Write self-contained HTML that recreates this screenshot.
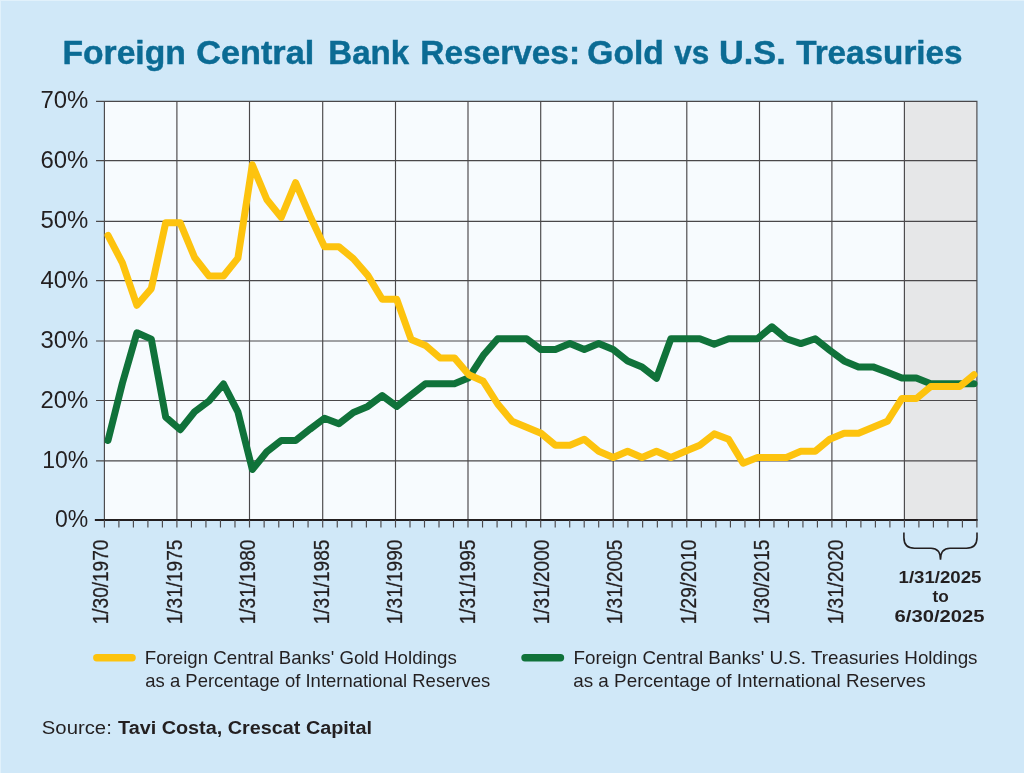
<!DOCTYPE html>
<html><head><meta charset="utf-8"><title>Foreign Central Bank Reserves: Gold vs U.S. Treasuries</title>
<style>
html,body{margin:0;padding:0;background:#d0e8f8}
body{width:1024px;height:773px;overflow:hidden;font-family:"Liberation Sans",sans-serif}
svg{display:block;will-change:transform}
</style></head><body>
<svg width="1024" height="773" viewBox="0 0 1024 773">
<rect x="0" y="0" width="1024" height="773" fill="#d0e8f8"/>
<path d="M0,0.5H1024M0.5,0V773" stroke="#e1f1fb" stroke-width="1" fill="none"/>
<rect x="104.4" y="101.4" width="872.50" height="418.60" fill="#f7fbfe"/>
<rect x="904.4" y="101.4" width="72.50" height="418.60" fill="#e6e7e8"/>
<path d="M104.40,100.9V520.0M176.90,100.9V520.0M249.50,100.9V520.0M322.70,100.9V520.0M395.50,100.9V520.0M468.00,100.9V520.0M540.70,100.9V520.0M613.20,100.9V520.0M686.80,100.9V520.0M759.50,100.9V520.0M831.90,100.9V520.0M904.40,100.9V520.0M976.90,100.9V520.0M96.05,460.90H977.50M96.05,400.50H977.50M96.05,341.00H977.50M96.05,280.55H977.50M96.05,221.40H977.50M96.05,160.60H977.50M96.05,101.40H977.50" stroke="#4a484a" stroke-width="1.15" fill="none"/>
<path d="M94.85,520.0H977.60" stroke="#231f20" stroke-width="2" fill="none"/>
<path d="M104.40,520.0V527.6M118.90,520.0V527.6M133.40,520.0V527.6M147.90,520.0V527.6M162.40,520.0V527.6M176.90,520.0V527.6M191.42,520.0V527.6M205.94,520.0V527.6M220.46,520.0V527.6M234.98,520.0V527.6M249.50,520.0V527.6M264.14,520.0V527.6M278.78,520.0V527.6M293.42,520.0V527.6M308.06,520.0V527.6M322.70,520.0V527.6M337.26,520.0V527.6M351.82,520.0V527.6M366.38,520.0V527.6M380.94,520.0V527.6M395.50,520.0V527.6M410.00,520.0V527.6M424.50,520.0V527.6M439.00,520.0V527.6M453.50,520.0V527.6M468.00,520.0V527.6M482.54,520.0V527.6M497.08,520.0V527.6M511.62,520.0V527.6M526.16,520.0V527.6M540.70,520.0V527.6M555.20,520.0V527.6M569.70,520.0V527.6M584.20,520.0V527.6M598.70,520.0V527.6M613.20,520.0V527.6M627.92,520.0V527.6M642.64,520.0V527.6M657.36,520.0V527.6M672.08,520.0V527.6M686.80,520.0V527.6M701.34,520.0V527.6M715.88,520.0V527.6M730.42,520.0V527.6M744.96,520.0V527.6M759.50,520.0V527.6M773.98,520.0V527.6M788.46,520.0V527.6M802.94,520.0V527.6M817.42,520.0V527.6M831.90,520.0V527.6M846.40,520.0V527.6M860.90,520.0V527.6M875.40,520.0V527.6M889.90,520.0V527.6M904.40,520.0V527.6M918.90,520.0V527.6M933.40,520.0V527.6M947.90,520.0V527.6M962.40,520.0V527.6M976.90,520.0V527.6" stroke="#4a484a" stroke-width="1.15" fill="none"/>
<polyline points="108.0,440.5 122.4,383.1 136.9,332.8 151.3,339.1 165.7,417.1 180.2,429.7 194.6,411.8 209.0,401.0 223.5,384.0 237.9,411.8 252.3,469.5 266.8,451.8 281.2,440.5 295.6,440.5 310.1,429.1 324.5,418.3 338.9,423.7 353.4,412.4 367.8,406.4 382.2,395.6 396.7,406.4 411.1,395.0 425.5,383.7 440.0,383.7 454.4,383.7 468.8,377.7 483.3,355.3 497.7,338.8 512.1,338.8 526.6,338.8 541.0,349.6 555.4,349.6 569.9,343.6 584.3,349.6 598.7,343.6 613.2,349.6 627.6,360.9 642.0,366.9 656.5,378.3 670.9,338.8 685.3,338.8 699.8,338.8 714.2,344.2 728.6,338.8 743.1,338.8 757.5,338.8 771.9,326.8 786.4,338.8 800.8,343.6 815.2,338.8 829.7,350.2 844.1,360.9 858.5,366.9 873.0,366.9 887.4,372.3 901.8,378.0 916.3,378.0 930.7,383.7 945.1,383.7 959.6,383.7 974.0,383.7" fill="none" stroke="#10723a" stroke-width="7" stroke-linejoin="round" stroke-linecap="round"/>
<polyline points="108.0,235.4 122.4,262.9 136.9,305.3 151.3,288.6 165.7,222.8 180.2,222.8 194.6,257.5 209.0,276.0 223.5,276.0 237.9,258.1 252.3,164.8 266.8,199.5 281.2,217.4 295.6,182.7 310.1,216.2 324.5,246.7 338.9,246.7 353.4,258.7 367.8,275.4 382.2,299.3 396.7,299.3 411.1,339.4 425.5,345.4 440.0,357.9 454.4,357.9 468.8,374.7 483.3,381.3 497.7,404.0 512.1,421.3 526.6,427.3 541.0,433.3 555.4,445.2 569.9,445.2 584.3,439.3 598.7,451.2 613.2,457.5 627.6,451.2 642.0,457.5 656.5,451.2 670.9,457.5 685.3,451.2 699.8,445.2 714.2,433.9 728.6,439.3 743.1,463.2 757.5,457.5 771.9,457.5 786.4,457.5 800.8,451.2 815.2,451.2 829.7,439.3 844.1,433.3 858.5,433.3 873.0,427.3 887.4,421.3 901.8,398.6 916.3,398.6 930.7,386.6 945.1,386.6 959.6,386.6 974.0,374.7" fill="none" stroke="#fdc30e" stroke-width="7" stroke-linejoin="round" stroke-linecap="round"/>
<path d="M903.9,532.5V537.5C903.9,544.8 907.3,548.2 914.5,548.2H931C936.6,548.2 940.5,551.2 940.5,559.7C940.5,551.2 944.4,548.2 950,548.2H966.4C973.6,548.2 977,544.8 977,537.5V532.5" fill="none" stroke="#231f20" stroke-width="1.6"/>
<path d="M96.8,657.8H132.1" stroke="#fdc30e" stroke-width="7.4" stroke-linecap="round"/>
<path d="M525,657.8H560.5" stroke="#10723a" stroke-width="7.4" stroke-linecap="round"/>
<g font-family="'Liberation Sans', sans-serif" fill="#231f20" opacity="0.999">
<text id="title" y="64.4" font-size="33" font-weight="bold" fill="#0b6b94" stroke="#0b6b94" stroke-width="0.45"><tspan x="62.46" textLength="123.32" lengthAdjust="spacingAndGlyphs">Foreign</tspan> <tspan x="196.26" textLength="117.99" lengthAdjust="spacingAndGlyphs">Central</tspan> <tspan x="328.3" textLength="80.75" lengthAdjust="spacingAndGlyphs">Bank</tspan> <tspan x="420.38" textLength="159.65" lengthAdjust="spacingAndGlyphs">Reserves:</tspan> <tspan x="587.38" textLength="76.41" lengthAdjust="spacingAndGlyphs">Gold</tspan> <tspan x="674.3" textLength="34.99" lengthAdjust="spacingAndGlyphs">vs</tspan> <tspan x="718.96" textLength="66.8" lengthAdjust="spacingAndGlyphs">U.S.</tspan> <tspan x="796.2" textLength="166.36" lengthAdjust="spacingAndGlyphs">Treasuries</tspan></text>
<text id="y0" x="88.3" y="527.0" font-size="23" text-anchor="end">0%</text>
<text id="y1" x="88.3" y="467.9" font-size="23" text-anchor="end">10%</text>
<text id="y2" x="88.3" y="407.5" font-size="23" textLength="47.9" lengthAdjust="spacingAndGlyphs" text-anchor="end">20%</text>
<text id="y3" x="88.3" y="348.0" font-size="23" textLength="47.9" lengthAdjust="spacingAndGlyphs" text-anchor="end">30%</text>
<text id="y4" x="88.3" y="287.6" font-size="23" textLength="47.9" lengthAdjust="spacingAndGlyphs" text-anchor="end">40%</text>
<text id="y5" x="88.3" y="228.4" font-size="23" textLength="47.9" lengthAdjust="spacingAndGlyphs" text-anchor="end">50%</text>
<text id="y6" x="88.3" y="167.6" font-size="23" textLength="47.9" lengthAdjust="spacingAndGlyphs" text-anchor="end">60%</text>
<text id="y7" x="88.3" y="108.4" font-size="23" textLength="47.9" lengthAdjust="spacingAndGlyphs" text-anchor="end">70%</text>
<text id="x0" font-size="21.5" stroke="#231f20" stroke-width="0.3" transform="translate(108.0,624.3) rotate(-90) scale(0.885,1)">1/30/1970</text>
<text id="x1" font-size="21.5" stroke="#231f20" stroke-width="0.3" transform="translate(181.5,624.3) rotate(-90) scale(0.885,1)">1/31/1975</text>
<text id="x2" font-size="21.5" stroke="#231f20" stroke-width="0.3" transform="translate(255.0,624.3) rotate(-90) scale(0.885,1)">1/31/1980</text>
<text id="x3" font-size="21.5" stroke="#231f20" stroke-width="0.3" transform="translate(328.5,624.3) rotate(-90) scale(0.885,1)">1/31/1985</text>
<text id="x4" font-size="21.5" stroke="#231f20" stroke-width="0.3" transform="translate(402.0,624.3) rotate(-90) scale(0.885,1)">1/31/1990</text>
<text id="x5" font-size="21.5" stroke="#231f20" stroke-width="0.3" transform="translate(475.4,624.3) rotate(-90) scale(0.885,1)">1/31/1995</text>
<text id="x6" font-size="21.5" stroke="#231f20" stroke-width="0.3" transform="translate(548.9,624.3) rotate(-90) scale(0.885,1)">1/31/2000</text>
<text id="x7" font-size="21.5" stroke="#231f20" stroke-width="0.3" transform="translate(622.4,624.3) rotate(-90) scale(0.885,1)">1/31/2005</text>
<text id="x8" font-size="21.5" stroke="#231f20" stroke-width="0.3" transform="translate(695.9,624.3) rotate(-90) scale(0.885,1)">1/29/2010</text>
<text id="x9" font-size="21.5" stroke="#231f20" stroke-width="0.3" transform="translate(769.4,624.3) rotate(-90) scale(0.885,1)">1/30/2015</text>
<text id="x10" font-size="21.5" stroke="#231f20" stroke-width="0.3" transform="translate(842.9,624.3) rotate(-90) scale(0.885,1)">1/31/2020</text>
<text id="b1" x="940.0" y="582.9" font-size="17.2" textLength="83" lengthAdjust="spacingAndGlyphs" text-anchor="middle" font-weight="bold">1/31/2025</text>
<text id="b2" x="940.6" y="602.0" font-size="17.2" text-anchor="middle" font-weight="bold">to</text>
<text id="b3" x="939.6" y="621.8" font-size="17.2" textLength="90" lengthAdjust="spacingAndGlyphs" text-anchor="middle" font-weight="bold">6/30/2025</text>
<text id="l1" x="144.8" y="664.2" font-size="18.1" textLength="312" lengthAdjust="spacingAndGlyphs">Foreign Central Banks' Gold Holdings</text>
<text id="l2" x="145.3" y="687.2" font-size="18.1" textLength="345" lengthAdjust="spacingAndGlyphs">as a Percentage of International Reserves</text>
<text id="l3" x="573.5" y="664.2" font-size="18.1" textLength="404" lengthAdjust="spacingAndGlyphs">Foreign Central Banks' U.S. Treasuries Holdings</text>
<text id="l4" x="573.2" y="687.2" font-size="18.1" textLength="352.5" lengthAdjust="spacingAndGlyphs">as a Percentage of International Reserves</text>
<text id="s1" x="41.8" y="733.65" font-size="19.1" textLength="70" lengthAdjust="spacingAndGlyphs">Source:</text>
<text id="s2" x="118.0" y="733.65" font-size="19.1" textLength="254" lengthAdjust="spacingAndGlyphs" font-weight="bold">Tavi Costa, Crescat Capital</text>
</g></svg>
</body></html>
